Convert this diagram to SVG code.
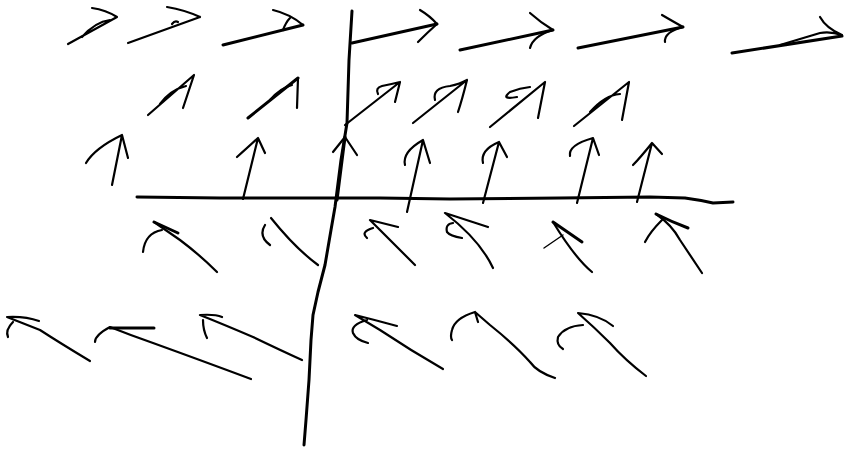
<svg xmlns="http://www.w3.org/2000/svg" width="844" height="449" viewBox="0 0 844 449">
<style>
path{fill:none;stroke:#000;stroke-width:2.2;stroke-linecap:round;stroke-linejoin:round}
.t{stroke-width:1.4}
.k{stroke-width:3}
</style>
<rect width="844" height="449" fill="#fff"/>
<g id="axes">
<path class="k" d="M352,11 L349,60 L347,123 L341,160 L335,207 L331,230 L325,265 L318,292 L313,315 L311,340 L309,380 L306,420 L304,445"/>
<path class="k" d="M137,197 L220,198 L300,198 L380,198 L450,199 L560,198 L650,197 L685,198 Q700,200 713,203 L733,202"/>
</g>
<g id="row1">
<path d="M68,44 L117,17 M92,8 Q106,10 117,17 M82,37 Q95,22 110,20"/>
<path d="M128,43 L200,17 M167,7 Q185,10 200,17 M172,24 Q175,20 178,22"/>
<path class="k" d="M223,45 L303,25"/>
<path d="M273,10 Q290,14 303,25 M283,30 Q286,22 290,18"/>
<path class="k" d="M352,43 L437,24"/>
<path d="M420,10 Q430,16 437,24 Q428,32 418,42"/>
<path class="k" d="M460,50 L553,30"/>
<path d="M530,13 Q540,22 553,30 Q533,36 530,48"/>
<path class="k" d="M578,48 L683,27"/>
<path d="M662,15 Q674,22 683,27 Q664,32 665,42"/>
<path class="k" d="M732,53 L842,36"/>
<path d="M820,17 Q826,28 842,35 M780,45 L820,33 Q830,31 842,35"/>
</g>
<g id="row2">
<path d="M148,115 L194,75 L183,108 M160,104 Q170,90 186,86"/>
<path class="k" d="M248,118 L298,78"/>
<path d="M298,78 L297,108 M270,100 Q280,88 292,85"/>
<path d="M345,125 L400,82 L395,102 M378,94 Q375,88 382,86 Q392,84 400,82"/>
<path d="M413,123 L467,80 Q462,100 458,112 M435,100 Q432,88 450,86 Q460,84 467,80"/>
<path d="M490,127 L545,82 L538,118 M517,97 Q500,100 510,92 Q520,88 530,87"/>
<path d="M574,126 L629,82 L622,120 M590,112 Q605,95 620,94"/>
</g>
<g id="row3">
<path d="M112,185 L122,135 L128,158 M122,135 Q95,148 86,163"/>
<path d="M243,199 L258,138 L265,153 M258,138 Q245,150 237,157"/>
<path class="k" d="M337,200 L345,137"/>
<path d="M333,152 L345,137 L357,155"/>
<path d="M407,212 L423,140 L430,163 M423,140 Q402,152 405,165"/>
<path d="M483,203 L499,142 L507,157 M499,142 Q480,150 483,163"/>
<path d="M577,203 L593,138 L599,155 M593,138 Q568,145 570,156"/>
<path d="M637,202 L652,143 L662,154 M652,143 Q640,158 633,165"/>
</g>
<g id="row4">
<path d="M217,272 Q200,255 180,240 L154,222"/>
<path class="k" d="M154,222 L178,233"/>
<path d="M162,230 Q145,233 143,252"/>
<path d="M318,265 Q295,248 271,218 M265,225 Q258,236 270,245"/>
<path d="M415,265 Q395,245 370,220 L398,227 M373,228 Q360,232 367,238"/>
<path d="M493,268 Q480,240 445,213 L488,227 M453,223 Q445,224 447,232 Q450,236 462,238"/>
<path d="M592,272 Q575,258 553,222"/>
<path class="k" d="M553,222 L582,242"/>
<path class="t" d="M563,235 L544,248"/>
<path d="M702,273 Q690,255 680,240 Q672,225 656,214"/>
<path class="k" d="M656,214 Q672,222 688,228"/>
<path d="M662,220 Q650,232 645,242"/>
</g>
<g id="row5">
<path d="M90,361 Q60,343 40,330 L7,317 Q25,316 39,321 M13,322 Q5,330 8,337"/>
<path d="M251,379 Q200,360 153,343 Q130,335 110,327 Q95,335 95,342"/>
<path class="k" d="M110,328 L154,328"/>
<path d="M302,360 Q280,350 253,337 Q225,325 200,315 Q215,314 222,317 M203,320 Q203,330 207,338"/>
<path d="M443,369 Q410,350 380,330 L355,315 Q375,320 397,326 M367,320 Q350,325 353,333 Q356,340 368,343"/>
<path d="M555,378 Q537,372 530,362 Q515,345 490,325 L475,312 Q455,318 452,330 Q450,337 452,340 M475,312 L478,322"/>
<path d="M646,376 Q625,360 610,343 Q595,328 578,313 Q600,315 613,326 M583,325 Q565,326 558,337 Q556,345 563,349"/>
</g>
</svg>
